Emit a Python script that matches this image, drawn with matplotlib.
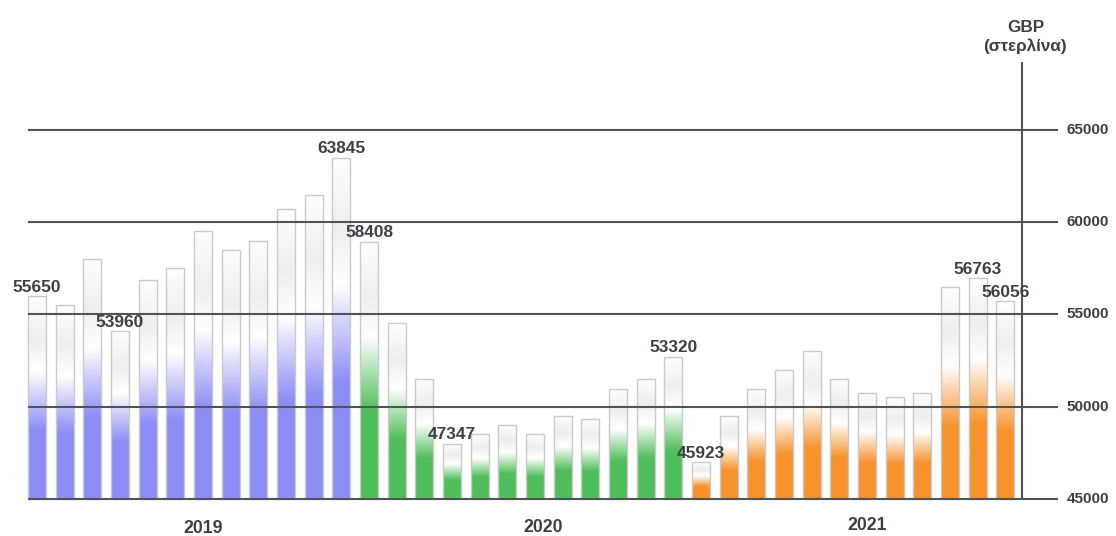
import numpy as np
import matplotlib.pyplot as plt
from matplotlib.colors import LinearSegmentedColormap, to_rgb

# monthly values, GBP (bar heights as drawn)
y2019 = [56000, 55515, 58025, 54105, 56870, 57520, 59510, 58510, 58970, 60700, 61490, 63500]
y2020 = [58950, 54520, 51500, 48000, 48500, 48990, 48500, 49500, 49340, 50980, 51500, 52710]
y2021 = [46990, 49520, 50980, 52010, 53040, 51520, 50750, 50510, 50730, 56490, 56980, 55720]
years = ["2019", "2020", "2021"]
year_colors = ["#8d8df6", "#50be5a", "#f7922c"]
yticks = [45000, 50000, 55000, 60000, 65000]
# value labels written over some of the 36 months
label_idx = [0, 3, 11, 12, 15, 23, 24, 34, 35]
label_txt = ["55650", "53960", "63845", "58408", "47347", "53320", "45923", "56763", "56056"]

TEXT = "#3c4046"
LINE = "#4f5459"
BASE = 45000

values = y2019 + y2020 + y2021
colors = [c for c in year_colors for _ in range(12)]
x = np.arange(len(values))

fig = plt.figure(figsize=(11.16, 5.36), dpi=100)
ax = fig.add_axes([0, 0, 1, 1])
ax.set_xlim(-37 / 27.67, (1116 - 37) / 27.67)
ax.set_ylim(BASE - 37 / 0.01845, BASE + 499 / 0.01845)
ax.axis("off")

plt.rcParams["font.family"] = ["Liberation Sans", "DejaVu Sans"]

width = 0.65
grad = np.linspace(0, 1, 256).reshape(-1, 1)
bars = ax.bar(x, np.array(values) - BASE, bottom=BASE, width=width,
              facecolor="none", edgecolor="#cacaca", linewidth=1.0, zorder=3)
for b, c in zip(bars, colors):
    light = tuple(0.45 * v + 0.55 for v in to_rgb(c))
    cmap = LinearSegmentedColormap.from_list(
        "fade", [(0, c), (0.34, c), (0.5, light), (0.63, "#ffffff"),
                 (0.79, "#eeeeee"), (0.93, "#f9f9f9"), (1, "#ffffff")])
    im = ax.imshow(grad, extent=[b.get_x(), b.get_x() + b.get_width(),
                                 BASE, b.get_y() + b.get_height()],
                   origin="lower", aspect="auto", cmap=cmap, zorder=2)
    im.set_clip_path(b)

# horizontal guides, drawn over the bars
ax.hlines(yticks, -width / 2, 36.9, color=LINE, linewidth=1.5, zorder=4)
ax.vlines(35.6, BASE - 50, BASE + 437 / 0.01845, color=LINE, linewidth=1.5, zorder=4)
for t in yticks:
    ax.text(37.22, t, str(t), ha="left", va="center", fontsize=11,
            fontweight="bold", color=TEXT)

ax.text(35.72, BASE + 462 / 0.01845, "GBP\n(στερλίνα)", ha="center", va="center",
        fontsize=12.3, fontweight="bold", color=TEXT, linespacing=1.2)

for i, s in zip(label_idx, label_txt):
    ax.annotate(s, (x[i], values[i]), xytext=(0, 1),
                textcoords="offset points", ha="center", va="bottom",
                fontsize=12.4, fontweight="bold", color=TEXT, zorder=5)

for yr, xp, yp in zip(years, [6.0, 18.3, 30.0], [529, 528, 525]):
    ax.text(xp, BASE - (yp - 499) / 0.01845, yr, ha="center", va="center",
            fontsize=12.7, fontweight="bold", color=TEXT)

fig.savefig("out.png", dpi=100, facecolor="white")
